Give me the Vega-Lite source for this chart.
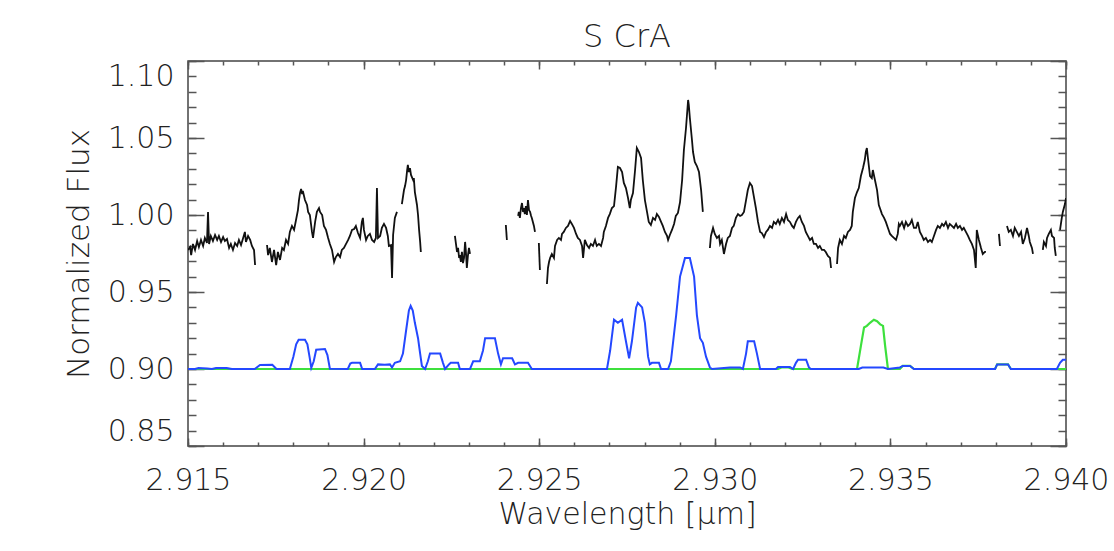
{
  "$schema": "https://vega.github.io/schema/vega-lite/v6.json",
  "width": 878,
  "height": 385,
  "autosize": {"type": "none"},
  "padding": {"left": 188, "top": 61, "right": 48, "bottom": 105},
  "background": "white",
  "title": {"text": "S CrA", "font": "DejaVu Sans", "fontSize": 32, "fontWeight": 300, "color": "#222", "offset": 6},
  "config": {
    "view": {"stroke": "#444", "strokeWidth": 1.5},
    "axis": {"grid": false, "domain": false, "labelFont": "DejaVu Sans", "labelFontSize": 30, "labelFontWeight": 300, "labelColor": "#222", "titleFont": "DejaVu Sans", "titleFontSize": 30, "titleFontWeight": 300, "titleColor": "#222", "tickColor": "#555", "tickWidth": 1.5, "labelFlush": false}
  },
  "datasets": {
    "black": [
      {"w":2.91500,"f":0.9773,"seg":1},{"w":2.91506,"f":0.9792,"seg":1},{"w":2.91509,"f":0.9740,"seg":1},{"w":2.91514,"f":0.9812,"seg":1},{"w":2.91520,"f":0.9773,"seg":1},{"w":2.91526,"f":0.9831,"seg":1},{"w":2.91531,"f":0.9792,"seg":1},{"w":2.91537,"f":0.9838,"seg":1},{"w":2.91543,"f":0.9799,"seg":1},{"w":2.91548,"f":0.9851,"seg":1},{"w":2.91554,"f":0.9818,"seg":1},{"w":2.91557,"f":1.0020,"seg":1},{"w":2.91560,"f":0.9812,"seg":1},{"w":2.91565,"f":0.9864,"seg":1},{"w":2.91571,"f":0.9831,"seg":1},{"w":2.91577,"f":0.9870,"seg":1},{"w":2.91583,"f":0.9838,"seg":1},{"w":2.91588,"f":0.9864,"seg":1},{"w":2.91594,"f":0.9825,"seg":1},{"w":2.91600,"f":0.9857,"seg":1},{"w":2.91605,"f":0.9831,"seg":1},{"w":2.91611,"f":0.9844,"seg":1},{"w":2.91617,"f":0.9786,"seg":1},{"w":2.91622,"f":0.9812,"seg":1},{"w":2.91628,"f":0.9773,"seg":1},{"w":2.91634,"f":0.9818,"seg":1},{"w":2.91640,"f":0.9799,"seg":1},{"w":2.91645,"f":0.9838,"seg":1},{"w":2.91651,"f":0.9805,"seg":1},{"w":2.91657,"f":0.9851,"seg":1},{"w":2.91662,"f":0.9890,"seg":1},{"w":2.91665,"f":0.9825,"seg":1},{"w":2.91671,"f":0.9864,"seg":1},{"w":2.91677,"f":0.9838,"seg":1},{"w":2.91682,"f":0.9799,"seg":1},{"w":2.91688,"f":0.9773,"seg":1},{"w":2.91691,"f":0.9675,"seg":1},
      {"w":2.91725,"f":0.9805,"seg":2},{"w":2.91728,"f":0.9740,"seg":2},{"w":2.91733,"f":0.9786,"seg":2},{"w":2.91739,"f":0.9695,"seg":2},{"w":2.91745,"f":0.9773,"seg":2},{"w":2.91751,"f":0.9675,"seg":2},{"w":2.91756,"f":0.9760,"seg":2},{"w":2.91762,"f":0.9708,"seg":2},{"w":2.91768,"f":0.9786,"seg":2},{"w":2.91773,"f":0.9773,"seg":2},{"w":2.91779,"f":0.9838,"seg":2},{"w":2.91785,"f":0.9812,"seg":2},{"w":2.91790,"f":0.9890,"seg":2},{"w":2.91796,"f":0.9929,"seg":2},{"w":2.91802,"f":0.9903,"seg":2},{"w":2.91807,"f":0.9961,"seg":2},{"w":2.91813,"f":1.0032,"seg":2},{"w":2.91816,"f":1.0097,"seg":2},{"w":2.91819,"f":1.0143,"seg":2},{"w":2.91822,"f":1.0169,"seg":2},{"w":2.91825,"f":1.0136,"seg":2},{"w":2.91827,"f":1.0156,"seg":2},{"w":2.91833,"f":1.0097,"seg":2},{"w":2.91839,"f":1.0065,"seg":2},{"w":2.91842,"f":1.0020,"seg":2},{"w":2.91847,"f":1.0000,"seg":2},{"w":2.91853,"f":0.9890,"seg":2},{"w":2.91856,"f":0.9851,"seg":2},{"w":2.91862,"f":0.9955,"seg":2},{"w":2.91867,"f":1.0020,"seg":2},{"w":2.91873,"f":1.0045,"seg":2},{"w":2.91876,"f":1.0020,"seg":2},{"w":2.91882,"f":1.0000,"seg":2},{"w":2.91887,"f":0.9929,"seg":2},{"w":2.91893,"f":0.9903,"seg":2},{"w":2.91899,"f":0.9851,"seg":2},{"w":2.91904,"f":0.9812,"seg":2},{"w":2.91910,"f":0.9773,"seg":2},{"w":2.91916,"f":0.9695,"seg":2},{"w":2.91921,"f":0.9727,"seg":2},{"w":2.91927,"f":0.9747,"seg":2},{"w":2.91933,"f":0.9727,"seg":2},{"w":2.91938,"f":0.9773,"seg":2},{"w":2.91944,"f":0.9786,"seg":2},{"w":2.91950,"f":0.9812,"seg":2},{"w":2.91956,"f":0.9838,"seg":2},{"w":2.91961,"f":0.9864,"seg":2},{"w":2.91967,"f":0.9903,"seg":2},{"w":2.91973,"f":0.9909,"seg":2},{"w":2.91978,"f":0.9929,"seg":2},{"w":2.91984,"f":0.9883,"seg":2},{"w":2.91990,"f":0.9851,"seg":2},{"w":2.91995,"f":0.9955,"seg":2},{"w":2.91998,"f":0.9981,"seg":2},{"w":2.92001,"f":0.9903,"seg":2},{"w":2.92007,"f":0.9838,"seg":2},{"w":2.92012,"f":0.9864,"seg":2},{"w":2.92018,"f":0.9877,"seg":2},{"w":2.92024,"f":0.9838,"seg":2},{"w":2.92030,"f":0.9825,"seg":2},{"w":2.92035,"f":0.9851,"seg":2},{"w":2.92038,"f":1.0175,"seg":2},{"w":2.92041,"f":0.9851,"seg":2},{"w":2.92047,"f":0.9864,"seg":2},{"w":2.92052,"f":0.9916,"seg":2},{"w":2.92058,"f":0.9942,"seg":2},{"w":2.92064,"f":0.9916,"seg":2},{"w":2.92069,"f":0.9864,"seg":2},{"w":2.92072,"f":0.9799,"seg":2},{"w":2.92078,"f":0.9805,"seg":2},{"w":2.92081,"f":0.9591,"seg":2},{"w":2.92084,"f":0.9870,"seg":2},{"w":2.92089,"f":0.9981,"seg":2},{"w":2.92095,"f":1.0020,"seg":2},
      {"w":2.92109,"f":1.0071,"seg":3},{"w":2.92115,"f":1.0162,"seg":3},{"w":2.92118,"f":1.0188,"seg":3},{"w":2.92121,"f":1.0227,"seg":3},{"w":2.92124,"f":1.0292,"seg":3},{"w":2.92126,"f":1.0325,"seg":3},{"w":2.92129,"f":1.0279,"seg":3},{"w":2.92132,"f":1.0305,"seg":3},{"w":2.92135,"f":1.0260,"seg":3},{"w":2.92141,"f":1.0227,"seg":3},{"w":2.92143,"f":1.0240,"seg":3},{"w":2.92146,"f":1.0149,"seg":3},{"w":2.92152,"f":1.0065,"seg":3},{"w":2.92155,"f":1.0000,"seg":3},{"w":2.92158,"f":0.9903,"seg":3},{"w":2.92161,"f":0.9825,"seg":3},{"w":2.92163,"f":0.9760,"seg":3},
      {"w":2.92260,"f":0.9864,"seg":4},{"w":2.92263,"f":0.9812,"seg":4},{"w":2.92266,"f":0.9760,"seg":4},{"w":2.92269,"f":0.9786,"seg":4},{"w":2.92272,"f":0.9721,"seg":4},{"w":2.92274,"f":0.9740,"seg":4},{"w":2.92277,"f":0.9695,"seg":4},{"w":2.92280,"f":0.9760,"seg":4},{"w":2.92283,"f":0.9688,"seg":4},{"w":2.92286,"f":0.9721,"seg":4},{"w":2.92289,"f":0.9825,"seg":4},{"w":2.92291,"f":0.9773,"seg":4},{"w":2.92294,"f":0.9656,"seg":4},{"w":2.92297,"f":0.9734,"seg":4},{"w":2.92300,"f":0.9786,"seg":4},{"w":2.92303,"f":0.9747,"seg":4},
      {"w":2.92405,"f":0.9935,"seg":5},{"w":2.92408,"f":0.9838,"seg":5},
      {"w":2.92440,"f":0.9994,"seg":6},{"w":2.92442,"f":1.0020,"seg":6},{"w":2.92445,"f":0.9981,"seg":6},{"w":2.92448,"f":1.0045,"seg":6},{"w":2.92451,"f":1.0078,"seg":6},{"w":2.92454,"f":1.0020,"seg":6},{"w":2.92457,"f":1.0045,"seg":6},{"w":2.92459,"f":1.0006,"seg":6},{"w":2.92462,"f":1.0058,"seg":6},{"w":2.92465,"f":1.0000,"seg":6},{"w":2.92468,"f":1.0097,"seg":6},{"w":2.92471,"f":1.0032,"seg":6},{"w":2.92474,"f":1.0020,"seg":6},{"w":2.92477,"f":0.9994,"seg":6},{"w":2.92479,"f":0.9981,"seg":6},{"w":2.92482,"f":0.9955,"seg":6},{"w":2.92485,"f":0.9929,"seg":6},{"w":2.92488,"f":0.9890,"seg":6},
      {"w":2.92499,"f":0.9818,"seg":7},{"w":2.92502,"f":0.9643,"seg":7},
      {"w":2.92522,"f":0.9552,"seg":8},{"w":2.92525,"f":0.9656,"seg":8},{"w":2.92528,"f":0.9695,"seg":8},{"w":2.92531,"f":0.9721,"seg":8},{"w":2.92536,"f":0.9747,"seg":8},{"w":2.92542,"f":0.9721,"seg":8},{"w":2.92545,"f":0.9799,"seg":8},{"w":2.92551,"f":0.9838,"seg":8},{"w":2.92556,"f":0.9851,"seg":8},{"w":2.92562,"f":0.9838,"seg":8},{"w":2.92565,"f":0.9877,"seg":8},{"w":2.92570,"f":0.9890,"seg":8},{"w":2.92576,"f":0.9916,"seg":8},{"w":2.92582,"f":0.9929,"seg":8},{"w":2.92588,"f":0.9961,"seg":8},{"w":2.92593,"f":0.9942,"seg":8},{"w":2.92599,"f":0.9916,"seg":8},{"w":2.92605,"f":0.9877,"seg":8},{"w":2.92610,"f":0.9851,"seg":8},{"w":2.92616,"f":0.9838,"seg":8},{"w":2.92622,"f":0.9799,"seg":8},{"w":2.92625,"f":0.9721,"seg":8},{"w":2.92630,"f":0.9838,"seg":8},{"w":2.92636,"f":0.9805,"seg":8},{"w":2.92642,"f":0.9786,"seg":8},{"w":2.92647,"f":0.9812,"seg":8},{"w":2.92653,"f":0.9799,"seg":8},{"w":2.92659,"f":0.9838,"seg":8},{"w":2.92664,"f":0.9799,"seg":8},{"w":2.92670,"f":0.9812,"seg":8},{"w":2.92676,"f":0.9799,"seg":8},{"w":2.92682,"f":0.9851,"seg":8},{"w":2.92684,"f":0.9890,"seg":8},{"w":2.92690,"f":0.9929,"seg":8},{"w":2.92696,"f":0.9981,"seg":8},{"w":2.92701,"f":1.0006,"seg":8},{"w":2.92707,"f":1.0045,"seg":8},{"w":2.92713,"f":1.0058,"seg":8},{"w":2.92719,"f":1.0188,"seg":8},{"w":2.92724,"f":1.0312,"seg":8},{"w":2.92730,"f":1.0305,"seg":8},{"w":2.92736,"f":1.0279,"seg":8},{"w":2.92741,"f":1.0208,"seg":8},{"w":2.92747,"f":1.0175,"seg":8},{"w":2.92753,"f":1.0110,"seg":8},{"w":2.92758,"f":1.0045,"seg":8},{"w":2.92761,"f":1.0097,"seg":8},{"w":2.92767,"f":1.0143,"seg":8},{"w":2.92773,"f":1.0292,"seg":8},{"w":2.92778,"f":1.0435,"seg":8},{"w":2.92784,"f":1.0409,"seg":8},{"w":2.92790,"f":1.0370,"seg":8},{"w":2.92795,"f":1.0227,"seg":8},{"w":2.92801,"f":1.0097,"seg":8},{"w":2.92807,"f":1.0020,"seg":8},{"w":2.92812,"f":0.9955,"seg":8},{"w":2.92818,"f":0.9935,"seg":8},{"w":2.92824,"f":0.9981,"seg":8},{"w":2.92830,"f":0.9968,"seg":8},{"w":2.92835,"f":1.0006,"seg":8},{"w":2.92841,"f":0.9987,"seg":8},{"w":2.92847,"f":0.9955,"seg":8},{"w":2.92852,"f":0.9929,"seg":8},{"w":2.92858,"f":0.9890,"seg":8},{"w":2.92864,"f":0.9864,"seg":8},{"w":2.92867,"f":0.9838,"seg":8},{"w":2.92872,"f":0.9870,"seg":8},{"w":2.92878,"f":0.9903,"seg":8},{"w":2.92884,"f":0.9942,"seg":8},{"w":2.92889,"f":0.9994,"seg":8},{"w":2.92895,"f":1.0013,"seg":8},{"w":2.92901,"f":1.0084,"seg":8},{"w":2.92907,"f":1.0227,"seg":8},{"w":2.92912,"f":1.0422,"seg":8},{"w":2.92918,"f":1.0565,"seg":8},{"w":2.92924,"f":1.0747,"seg":8},{"w":2.92926,"f":1.0714,"seg":8},{"w":2.92929,"f":1.0630,"seg":8},{"w":2.92935,"f":1.0487,"seg":8},{"w":2.92938,"f":1.0409,"seg":8},{"w":2.92943,"f":1.0344,"seg":8},{"w":2.92949,"f":1.0318,"seg":8},{"w":2.92955,"f":1.0279,"seg":8},{"w":2.92961,"f":1.0162,"seg":8},{"w":2.92966,"f":1.0020,"seg":8},
      {"w":2.92986,"f":0.9786,"seg":9},{"w":2.92989,"f":0.9864,"seg":9},{"w":2.92995,"f":0.9916,"seg":9},{"w":2.93000,"f":0.9877,"seg":9},{"w":2.93006,"f":0.9851,"seg":9},{"w":2.93012,"f":0.9864,"seg":9},{"w":2.93015,"f":0.9812,"seg":9},{"w":2.93020,"f":0.9838,"seg":9},{"w":2.93026,"f":0.9747,"seg":9},{"w":2.93032,"f":0.9812,"seg":9},{"w":2.93037,"f":0.9851,"seg":9},{"w":2.93043,"f":0.9864,"seg":9},{"w":2.93049,"f":0.9916,"seg":9},{"w":2.93054,"f":0.9929,"seg":9},{"w":2.93060,"f":0.9981,"seg":9},{"w":2.93066,"f":1.0006,"seg":9},{"w":2.93072,"f":0.9994,"seg":9},{"w":2.93077,"f":1.0000,"seg":9},{"w":2.93083,"f":1.0020,"seg":9},{"w":2.93089,"f":1.0097,"seg":9},{"w":2.93094,"f":1.0162,"seg":9},{"w":2.93100,"f":1.0208,"seg":9},{"w":2.93106,"f":1.0188,"seg":9},{"w":2.93111,"f":1.0123,"seg":9},{"w":2.93117,"f":1.0045,"seg":9},{"w":2.93123,"f":0.9955,"seg":9},{"w":2.93129,"f":0.9890,"seg":9},{"w":2.93134,"f":0.9883,"seg":9},{"w":2.93140,"f":0.9857,"seg":9},{"w":2.93146,"f":0.9890,"seg":9},{"w":2.93151,"f":0.9903,"seg":9},{"w":2.93157,"f":0.9929,"seg":9},{"w":2.93163,"f":0.9916,"seg":9},{"w":2.93168,"f":0.9955,"seg":9},{"w":2.93174,"f":0.9942,"seg":9},{"w":2.93180,"f":0.9968,"seg":9},{"w":2.93185,"f":0.9942,"seg":9},{"w":2.93191,"f":0.9981,"seg":9},{"w":2.93197,"f":0.9955,"seg":9},{"w":2.93203,"f":1.0006,"seg":9},{"w":2.93208,"f":0.9968,"seg":9},{"w":2.93214,"f":0.9955,"seg":9},{"w":2.93220,"f":0.9929,"seg":9},{"w":2.93225,"f":0.9916,"seg":9},{"w":2.93231,"f":0.9955,"seg":9},{"w":2.93237,"f":0.9981,"seg":9},{"w":2.93242,"f":0.9994,"seg":9},{"w":2.93248,"f":0.9955,"seg":9},{"w":2.93254,"f":0.9929,"seg":9},{"w":2.93259,"f":0.9890,"seg":9},{"w":2.93265,"f":0.9864,"seg":9},{"w":2.93271,"f":0.9838,"seg":9},{"w":2.93277,"f":0.9851,"seg":9},{"w":2.93282,"f":0.9812,"seg":9},{"w":2.93288,"f":0.9812,"seg":9},{"w":2.93294,"f":0.9786,"seg":9},{"w":2.93299,"f":0.9799,"seg":9},{"w":2.93305,"f":0.9773,"seg":9},{"w":2.93311,"f":0.9773,"seg":9},{"w":2.93316,"f":0.9760,"seg":9},{"w":2.93322,"f":0.9734,"seg":9},{"w":2.93328,"f":0.9721,"seg":9},{"w":2.93331,"f":0.9656,"seg":9},
      {"w":2.93348,"f":0.9682,"seg":10},{"w":2.93351,"f":0.9786,"seg":10},{"w":2.93356,"f":0.9838,"seg":10},{"w":2.93362,"f":0.9812,"seg":10},{"w":2.93368,"f":0.9864,"seg":10},{"w":2.93373,"f":0.9851,"seg":10},{"w":2.93379,"f":0.9890,"seg":10},{"w":2.93385,"f":0.9903,"seg":10},{"w":2.93390,"f":0.9929,"seg":10},{"w":2.93393,"f":1.0020,"seg":10},{"w":2.93399,"f":1.0110,"seg":10},{"w":2.93405,"f":1.0149,"seg":10},{"w":2.93410,"f":1.0175,"seg":10},{"w":2.93416,"f":1.0253,"seg":10},{"w":2.93422,"f":1.0305,"seg":10},{"w":2.93427,"f":1.0357,"seg":10},{"w":2.93430,"f":1.0409,"seg":10},{"w":2.93433,"f":1.0435,"seg":10},{"w":2.93436,"f":1.0370,"seg":10},{"w":2.93442,"f":1.0253,"seg":10},{"w":2.93447,"f":1.0240,"seg":10},{"w":2.93450,"f":1.0292,"seg":10},{"w":2.93456,"f":1.0227,"seg":10},{"w":2.93462,"f":1.0162,"seg":10},{"w":2.93467,"f":1.0065,"seg":10},{"w":2.93470,"f":1.0045,"seg":10},{"w":2.93476,"f":1.0006,"seg":10},{"w":2.93482,"f":0.9981,"seg":10},{"w":2.93487,"f":0.9955,"seg":10},{"w":2.93493,"f":0.9916,"seg":10},{"w":2.93499,"f":0.9877,"seg":10},{"w":2.93504,"f":0.9864,"seg":10},{"w":2.93510,"f":0.9851,"seg":10},{"w":2.93516,"f":0.9838,"seg":10},{"w":2.93521,"f":0.9877,"seg":10},{"w":2.93524,"f":0.9942,"seg":10},{"w":2.93527,"f":0.9929,"seg":10},{"w":2.93533,"f":0.9955,"seg":10},{"w":2.93539,"f":0.9916,"seg":10},{"w":2.93544,"f":0.9955,"seg":10},{"w":2.93550,"f":0.9929,"seg":10},{"w":2.93556,"f":0.9942,"seg":10},{"w":2.93561,"f":0.9968,"seg":10},{"w":2.93567,"f":0.9916,"seg":10},{"w":2.93573,"f":0.9916,"seg":10},{"w":2.93578,"f":0.9955,"seg":10},{"w":2.93584,"f":0.9890,"seg":10},{"w":2.93590,"f":0.9864,"seg":10},{"w":2.93595,"f":0.9838,"seg":10},{"w":2.93601,"f":0.9851,"seg":10},{"w":2.93607,"f":0.9825,"seg":10},{"w":2.93613,"f":0.9838,"seg":10},{"w":2.93618,"f":0.9825,"seg":10},{"w":2.93624,"f":0.9864,"seg":10},{"w":2.93630,"f":0.9903,"seg":10},{"w":2.93635,"f":0.9929,"seg":10},{"w":2.93641,"f":0.9916,"seg":10},{"w":2.93647,"f":0.9942,"seg":10},{"w":2.93652,"f":0.9929,"seg":10},{"w":2.93658,"f":0.9955,"seg":10},{"w":2.93664,"f":0.9916,"seg":10},{"w":2.93669,"f":0.9942,"seg":10},{"w":2.93675,"f":0.9929,"seg":10},{"w":2.93681,"f":0.9916,"seg":10},{"w":2.93687,"f":0.9942,"seg":10},{"w":2.93692,"f":0.9916,"seg":10},{"w":2.93698,"f":0.9929,"seg":10},{"w":2.93704,"f":0.9903,"seg":10},{"w":2.93709,"f":0.9916,"seg":10},{"w":2.93715,"f":0.9890,"seg":10},{"w":2.93721,"f":0.9864,"seg":10},{"w":2.93726,"f":0.9838,"seg":10},{"w":2.93732,"f":0.9812,"seg":10},{"w":2.93738,"f":0.9773,"seg":10},{"w":2.93743,"f":0.9656,"seg":10},{"w":2.93746,"f":0.9903,"seg":10},{"w":2.93752,"f":0.9838,"seg":10},{"w":2.93758,"f":0.9786,"seg":10},{"w":2.93763,"f":0.9747,"seg":10},{"w":2.93769,"f":0.9760,"seg":10},{"w":2.93772,"f":0.9760,"seg":10},
      {"w":2.93809,"f":0.9877,"seg":11},{"w":2.93812,"f":0.9799,"seg":11},
      {"w":2.93832,"f":0.9929,"seg":12},{"w":2.93837,"f":0.9890,"seg":12},{"w":2.93843,"f":0.9903,"seg":12},{"w":2.93849,"f":0.9864,"seg":12},{"w":2.93854,"f":0.9916,"seg":12},{"w":2.93860,"f":0.9890,"seg":12},{"w":2.93866,"f":0.9864,"seg":12},{"w":2.93872,"f":0.9890,"seg":12},{"w":2.93877,"f":0.9812,"seg":12},{"w":2.93883,"f":0.9851,"seg":12},{"w":2.93889,"f":0.9916,"seg":12},{"w":2.93894,"f":0.9864,"seg":12},{"w":2.93897,"f":0.9825,"seg":12},{"w":2.93903,"f":0.9786,"seg":12},{"w":2.93906,"f":0.9747,"seg":12},
      {"w":2.93934,"f":0.9773,"seg":13},{"w":2.93937,"f":0.9825,"seg":13},{"w":2.93943,"f":0.9799,"seg":13},{"w":2.93946,"f":0.9851,"seg":13},{"w":2.93951,"f":0.9877,"seg":13},{"w":2.93957,"f":0.9903,"seg":13},{"w":2.93960,"f":0.9864,"seg":13},{"w":2.93966,"f":0.9851,"seg":13},{"w":2.93968,"f":0.9786,"seg":13},{"w":2.93971,"f":0.9734,"seg":13},
      {"w":2.93983,"f":0.9903,"seg":14},{"w":2.93988,"f":0.9981,"seg":14},{"w":2.93991,"f":1.0020,"seg":14},{"w":2.93997,"f":1.0071,"seg":14},{"w":2.94000,"f":1.0110,"seg":14}
    ],
    "blue": [
      {"w":2.91500,"f":0.9000},{"w":2.91520,"f":0.9000},{"w":2.91530,"f":0.9006},{"w":2.91555,"f":0.9004},{"w":2.91568,"f":0.9000},{"w":2.91580,"f":0.9006},{"w":2.91610,"f":0.9006},{"w":2.91625,"f":0.9000},{"w":2.91690,"f":0.9000},{"w":2.91705,"f":0.9026},{"w":2.91740,"f":0.9027},{"w":2.91752,"f":0.9000},{"w":2.91790,"f":0.9000},{"w":2.91800,"f":0.9080},{"w":2.91808,"f":0.9160},{"w":2.91815,"f":0.9190},{"w":2.91833,"f":0.9190},{"w":2.91840,"f":0.9160},{"w":2.91846,"f":0.9080},{"w":2.91851,"f":0.9007},{"w":2.91858,"f":0.9050},{"w":2.91865,"f":0.9125},{"w":2.91890,"f":0.9130},{"w":2.91897,"f":0.9090},{"w":2.91904,"f":0.9002},{"w":2.91955,"f":0.9000},{"w":2.91962,"f":0.9035},{"w":2.91967,"f":0.9040},{"w":2.91990,"f":0.9040},{"w":2.91996,"f":0.9000},{"w":2.92032,"f":0.9000},{"w":2.92041,"f":0.9030},{"w":2.92060,"f":0.9027},{"w":2.92075,"f":0.9030},{"w":2.92081,"f":0.9010},{"w":2.92089,"f":0.9040},{"w":2.92104,"f":0.9050},{"w":2.92112,"f":0.9100},{"w":2.92121,"f":0.9250},{"w":2.92129,"f":0.9380},{"w":2.92134,"f":0.9410},{"w":2.92140,"f":0.9380},{"w":2.92146,"f":0.9300},{"w":2.92155,"f":0.9200},{"w":2.92161,"f":0.9100},{"w":2.92166,"f":0.9020},{"w":2.92175,"f":0.9000},{"w":2.92183,"f":0.9050},{"w":2.92189,"f":0.9100},{"w":2.92218,"f":0.9100},{"w":2.92226,"f":0.9040},{"w":2.92232,"f":0.9000},{"w":2.92243,"f":0.9030},{"w":2.92248,"f":0.9040},{"w":2.92269,"f":0.9040},{"w":2.92274,"f":0.9000},{"w":2.92303,"f":0.9000},{"w":2.92312,"f":0.9050},{"w":2.92331,"f":0.9050},{"w":2.92340,"f":0.9120},{"w":2.92346,"f":0.9200},{"w":2.92374,"f":0.9200},{"w":2.92383,"f":0.9100},{"w":2.92391,"f":0.9030},{"w":2.92397,"f":0.9070},{"w":2.92423,"f":0.9070},{"w":2.92431,"f":0.9030},{"w":2.92440,"f":0.9040},{"w":2.92468,"f":0.9040},{"w":2.92479,"f":0.9000},{"w":2.92693,"f":0.9000},{"w":2.92702,"f":0.9120},{"w":2.92713,"f":0.9320},{"w":2.92724,"f":0.9300},{"w":2.92736,"f":0.9320},{"w":2.92747,"f":0.9180},{"w":2.92756,"f":0.9070},{"w":2.92764,"f":0.9180},{"w":2.92776,"f":0.9400},{"w":2.92781,"f":0.9430},{"w":2.92793,"f":0.9400},{"w":2.92801,"f":0.9300},{"w":2.92810,"f":0.9080},{"w":2.92815,"f":0.9030},{"w":2.92821,"f":0.9040},{"w":2.92841,"f":0.9040},{"w":2.92847,"f":0.9000},{"w":2.92867,"f":0.9000},{"w":2.92875,"f":0.9050},{"w":2.92890,"f":0.9350},{"w":2.92901,"f":0.9600},{"w":2.92915,"f":0.9720},{"w":2.92929,"f":0.9720},{"w":2.92941,"f":0.9600},{"w":2.92949,"f":0.9350},{"w":2.92958,"f":0.9200},{"w":2.92966,"f":0.9170},{"w":2.92975,"f":0.9080},{"w":2.92986,"f":0.9010},{"w":2.92992,"f":0.9000},{"w":2.93043,"f":0.9010},{"w":2.93072,"f":0.9010},{"w":2.93080,"f":0.9000},{"w":2.93089,"f":0.9100},{"w":2.93094,"f":0.9180},{"w":2.93112,"f":0.9180},{"w":2.93120,"f":0.9100},{"w":2.93129,"f":0.9000},{"w":2.93174,"f":0.9000},{"w":2.93180,"f":0.9013},{"w":2.93214,"f":0.9013},{"w":2.93223,"f":0.9000},{"w":2.93231,"f":0.9040},{"w":2.93237,"f":0.9060},{"w":2.93260,"f":0.9060},{"w":2.93268,"f":0.9010},{"w":2.93274,"f":0.9000},{"w":2.93410,"f":0.9000},{"w":2.93420,"f":0.9010},{"w":2.93480,"f":0.9010},{"w":2.93493,"f":0.9000},{"w":2.93527,"f":0.9010},{"w":2.93535,"f":0.9020},{"w":2.93556,"f":0.9020},{"w":2.93567,"f":0.9000},{"w":2.93798,"f":0.9000},{"w":2.93804,"f":0.9030},{"w":2.93835,"f":0.9030},{"w":2.93843,"f":0.9000},{"w":2.93974,"f":0.9000},{"w":2.93983,"f":0.9040},{"w":2.93991,"f":0.9060},{"w":2.94000,"f":0.9060}
    ],
    "green": [
      {"w":2.91500,"f":0.9000},{"w":2.93180,"f":0.9000},{"w":2.93190,"f":0.9010},{"w":2.93210,"f":0.9010},{"w":2.93220,"f":0.9000},{"w":2.93405,"f":0.9000},{"w":2.93416,"f":0.9150},{"w":2.93425,"f":0.9270},{"w":2.93433,"f":0.9280},{"w":2.93442,"f":0.9300},{"w":2.93453,"f":0.9320},{"w":2.93462,"f":0.9310},{"w":2.93471,"f":0.9290},{"w":2.93479,"f":0.9280},{"w":2.93485,"f":0.9150},{"w":2.93493,"f":0.9000},{"w":2.93527,"f":0.9000},{"w":2.93535,"f":0.9020},{"w":2.93556,"f":0.9020},{"w":2.93567,"f":0.9000},{"w":2.93798,"f":0.9000},{"w":2.93804,"f":0.9030},{"w":2.93835,"f":0.9030},{"w":2.93843,"f":0.9000},{"w":2.94000,"f":0.9000}
    ]
  },
  "resolve": {"axis": {"x": "independent", "y": "independent"}},
  "layer": [
    {
      "data": {"name": "green"},
      "mark": {"type": "line", "color": "#3de03d", "strokeWidth": 2.2, "clip": true},
      "encoding": {
        "x": {"field": "w", "type": "quantitative", "scale": {"domain": [2.915, 2.94], "nice": false, "zero": false},
              "axis": {"orient": "bottom", "values": [2.915, 2.92, 2.925, 2.93, 2.935, 2.94], "format": ".3f", "offset": -8, "tickSize": 8, "labelPadding": 19, "labelFlush": false, "title": "Wavelength [μm]", "titlePadding": 4}},
        "y": {"field": "f", "type": "quantitative", "scale": {"domain": [0.85, 1.10], "nice": false, "zero": false},
              "axis": {"orient": "left", "values": [0.85, 0.9, 0.95, 1.0, 1.05, 1.1], "format": ".2f", "offset": -16, "tickSize": 16, "labelPadding": 14, "labelFlush": true, "labelFlushOffset": 0, "title": "Normalized Flux", "titleFontSize": 31, "titlePadding": 12}}
      }
    },
    {
      "data": {"name": "blue"},
      "mark": {"type": "line", "color": "#2448ff", "strokeWidth": 2, "clip": true},
      "encoding": {
        "x": {"field": "w", "type": "quantitative",
              "axis": {"orient": "bottom", "values": [2.915,2.916,2.917,2.918,2.919,2.92,2.921,2.922,2.923,2.924,2.925,2.926,2.927,2.928,2.929,2.93,2.931,2.932,2.933,2.934,2.935,2.936,2.937,2.938,2.939,2.94], "offset": -4, "tickSize": 4, "labels": false, "title": null}},
        "y": {"field": "f", "type": "quantitative",
              "axis": {"orient": "left", "values": [0.85,0.86,0.87,0.88,0.89,0.9,0.91,0.92,0.93,0.94,0.95,0.96,0.97,0.98,0.99,1.0,1.01,1.02,1.03,1.04,1.05,1.06,1.07,1.08,1.09,1.1], "offset": -8, "tickSize": 8, "labels": false, "title": null}}
      }
    },
    {
      "data": {"name": "black"},
      "mark": {"type": "line", "color": "#111111", "strokeWidth": 1.8, "clip": true},
      "encoding": {
        "x": {"field": "w", "type": "quantitative",
              "axis": {"orient": "top", "values": [2.915, 2.92, 2.925, 2.93, 2.935, 2.94], "offset": -8, "tickSize": 8, "labels": false, "title": null}},
        "y": {"field": "f", "type": "quantitative",
              "axis": {"orient": "right", "values": [0.85, 0.9, 0.95, 1.0, 1.05, 1.1], "offset": -16, "tickSize": 16, "labels": false, "title": null}},
        "detail": {"field": "seg", "type": "nominal"}
      }
    },
    {
      "data": {"name": "green"},
      "mark": {"type": "line", "opacity": 0, "clip": true},
      "encoding": {
        "x": {"field": "w", "type": "quantitative",
              "axis": {"orient": "top", "values": [2.915,2.916,2.917,2.918,2.919,2.92,2.921,2.922,2.923,2.924,2.925,2.926,2.927,2.928,2.929,2.93,2.931,2.932,2.933,2.934,2.935,2.936,2.937,2.938,2.939,2.94], "offset": -4, "tickSize": 4, "labels": false, "title": null}},
        "y": {"field": "f", "type": "quantitative",
              "axis": {"orient": "right", "values": [0.85,0.86,0.87,0.88,0.89,0.9,0.91,0.92,0.93,0.94,0.95,0.96,0.97,0.98,0.99,1.0,1.01,1.02,1.03,1.04,1.05,1.06,1.07,1.08,1.09,1.1], "offset": -8, "tickSize": 8, "labels": false, "title": null}}
      }
    }
  ]
}
